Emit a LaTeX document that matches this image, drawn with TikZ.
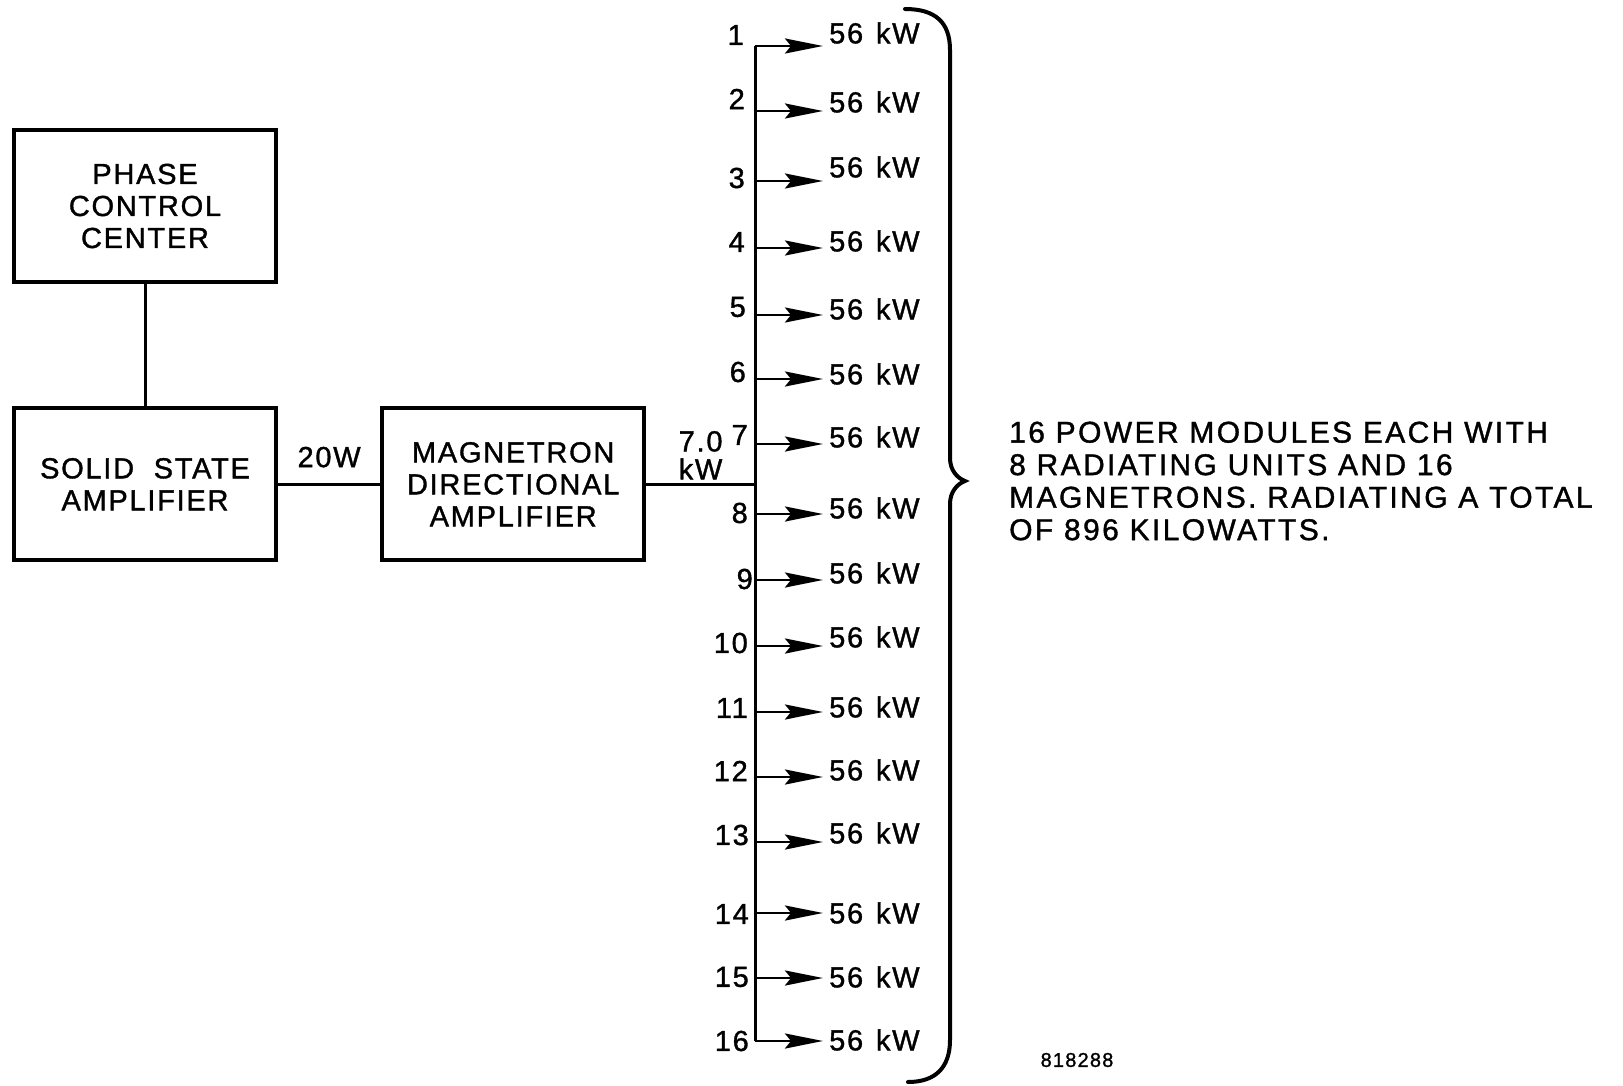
\documentclass[tikz,border=0pt]{standalone}
\usepackage{fontspec}
\setmainfont[LetterSpace=6, FakeBold=1.2]{Liberation Sans}
\usetikzlibrary{arrows.meta, positioning, calc}

\begin{document}
\begin{tikzpicture}[
    x=1pt, y=-1pt,
    every node/.style={font=\fontsize{29}{32}\selectfont},
    unitbox/.style={rectangle, draw, line width=4.2pt, minimum width=262pt, minimum height=152pt, align=center, inner sep=0pt},
    wire/.style={line width=3pt},
    feed/.style={line width=2.8pt, -{Stealth[length=38pt, width=15pt, inset=6pt]}},
    portnum/.style={anchor=east, inner sep=0pt},
    outpw/.style={anchor=west, inner sep=0pt},
    bracepen/.style={line width=4pt, line cap=round}
]
\useasboundingbox (0,0) rectangle (1623,1086);

% Blocks
\node[unitbox] (phase) at (145,206) {PHASE\\CONTROL\\CENTER};
\node[unitbox, below=122pt of phase] (solid) {SOLID\ \ STATE\\AMPLIFIER};
\node[unitbox, right=102pt of solid] (mag) {MAGNETRON\\DIRECTIONAL\\AMPLIFIER};

% 16 outputs fed from the bus
\foreach \n/\y/\ly/\nx/\ny in {1/46/33/744/35, 2/111/102/745/99, 3/181/167/745/178, 4/248/241/745/242,
    5/315/309/746/307, 6/379/374/746/372, 7/444/437/748/435, 8/514/508/748/513,
    9/580/573/753/579, 10/646/637/748/643, 11/712/707/748/708, 12/777/770/748/771,
    13/842/833/749/835, 14/913/913/749/914, 15/978/977/749/977, 16/1041/1040/749/1041}{
  \coordinate (b\n) at (755,\y);
  \coordinate (t\n) at (823,\y);
  \node[portnum] (num\n) at (\nx,\ny) {\n};
  \node[outpw] (out\n) at (829,\ly) {56\ \hspace{3pt}kW};
  \draw[feed] (b\n) -- (t\n);
}
\coordinate (busin) at (mag.east -| b1);

% Connectors
\draw[wire] (phase.south) -- (solid.north);
\draw[wire] (solid.east) -- node[above, yshift=12pt] {20W} (mag.west);
\draw[wire] (mag.east) -- node[above, align=left, font=\fontsize{29}{28}\selectfont] {7.0\\kW} (busin);
\draw[wire] (b1) -- (b16);

% Brace and note
\coordinate (bracetop) at (905,9);
\coordinate (bracetip) at (965,481);
\coordinate (bracebot) at (908,1082);
\draw[bracepen] (bracetop) .. controls (935,9) and (950,22) .. (950,50) -- (950,458)
    .. controls (950,470) and (957,478) .. (bracetip)
    .. controls (957,484) and (950,492) .. (950,504) -- (950,1040)
    .. controls (950,1068) and (935,1082) .. (bracebot);
\node[right=44pt of bracetip, align=left, inner sep=0pt, font=\fontsize{30}{32.5}\selectfont\addfontfeatures{LetterSpace=8}] (note) {16 POWER MODULES EACH WITH\\8 RADIATING UNITS AND 16\\MAGNETRONS. RADIATING A TOTAL\\OF 896 KILOWATTS.};
\node[font=\fontsize{20}{24}\selectfont] (tag) at (1077,1060) {818288};
\end{tikzpicture}
\end{document}
